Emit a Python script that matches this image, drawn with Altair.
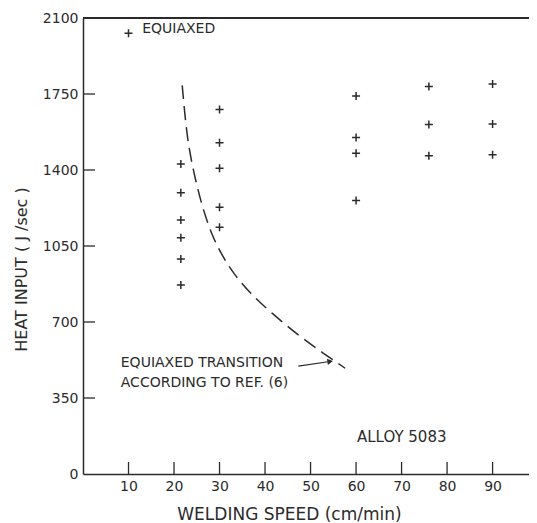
import altair as alt
import pandas as pd

# Data points (+ markers)
pt_x = [10,
        21.5, 21.5, 21.5, 21.5, 21.5, 21.5,
        30, 30, 30, 30, 30,
        60, 60, 60, 60,
        76, 76, 76,
        90, 90, 90]
pt_y = [2030,
        1428, 1295, 1170, 1088, 990, 870,
        1679, 1526, 1408, 1228, 1136,
        1741, 1550, 1477, 1259,
        1785, 1609, 1466,
        1796, 1612, 1470]

# Equiaxed transition curve according to Ref. (6)
curve_x = [21.8, 22.8, 24.2, 26.1, 28.4, 30.6, 33.0, 36.7, 41.5, 47.7, 52.8, 57.6]
curve_y = [1790, 1555, 1400, 1235, 1095, 1005, 925, 832, 740, 632, 556, 487]

x_ticks = [10, 20, 30, 40, 50, 60, 70, 80, 90]
y_ticks = [0, 350, 700, 1050, 1400, 1750, 2100]
y_inner_ticks = [350, 700, 1050, 1400, 1750]

ann_text = ["EQUIAXED", "EQUIAXED TRANSITION", "ACCORDING TO REF. (6)", "ALLOY 5083"]
ann_x = [13.0, 8.3, 8.3, 60.2]
ann_y = [2048, 511, 419, 172]
ann_size = [14, 14, 14, 15]

arrow_x = [47.3]
arrow_y = [497]
arrow_x2 = [54.3]
arrow_y2 = [518]

INK = "#2b2b2b"
FONT = "DejaVu Sans"
W, H = 446, 456

xs = alt.Scale(domain=[0, 98], nice=False, zero=False)
ys = alt.Scale(domain=[0, 2100], nice=False, zero=False)

pts = pd.DataFrame({"x": pt_x, "y": pt_y})
crv = pd.DataFrame({"x": curve_x, "y": curve_y, "i": list(range(len(curve_x)))})
ann = pd.DataFrame({"t": ann_text, "x": ann_x, "y": ann_y, "s": ann_size})
arr = pd.DataFrame({"x": arrow_x, "y": arrow_y, "x2": arrow_x2, "y2": arrow_y2})
xt = pd.DataFrame({"v": x_ticks})
yt = pd.DataFrame({"v": y_inner_ticks})

xaxis = alt.Axis(values=x_ticks, format="d", ticks=False, grid=False, labelPadding=5,
                 labelFontSize=14, labelFont=FONT, labelColor=INK,
                 domainColor=INK, domainWidth=1.5,
                 title="WELDING SPEED  (cm/min)", titleFont=FONT, titleFontSize=17,
                 titleFontWeight="normal", titleColor=INK, titleX=206, titleY=40,
                 titleAlign="center", titleBaseline="middle")
yaxis = alt.Axis(values=y_ticks, format="d", ticks=False, grid=False, labelPadding=5,
                 labelFontSize=14, labelFont=FONT, labelColor=INK,
                 domainColor=INK, domainWidth=1.5,
                 title="HEAT INPUT ( J /sec )", titleFont=FONT, titleFontSize=16,
                 titleFontWeight="normal", titleColor=INK, titleX=-62, titleY=251,
                 titleAlign="center", titleBaseline="middle", titleAngle=-90)

points = alt.Chart(pts).mark_point(
    shape="M-1,0L1,0M0,-1L0,1", size=64, filled=False, stroke=INK, strokeWidth=1.5, opacity=1
).encode(
    x=alt.X("x:Q", scale=xs, axis=xaxis),
    y=alt.Y("y:Q", scale=ys, axis=yaxis),
)

curve = alt.Chart(crv).mark_line(
    color=INK, strokeWidth=1.5, strokeDash=[14, 7], interpolate="basis"
).encode(x=alt.X("x:Q", scale=xs), y=alt.Y("y:Q", scale=ys), order="i:Q")

texts = alt.Chart(ann).mark_text(
    align="left", baseline="middle", font=FONT, color=INK
).encode(x=alt.X("x:Q", scale=xs), y=alt.Y("y:Q", scale=ys), text="t:N",
         size=alt.Size("s:Q", scale=None, legend=None))

arrow_line = alt.Chart(arr).mark_rule(color=INK, strokeWidth=1.2).encode(
    x=alt.X("x:Q", scale=xs), y=alt.Y("y:Q", scale=ys), x2="x2:Q", y2="y2:Q")
arrow_head = alt.Chart(arr).mark_point(
    shape="triangle-right", size=40, filled=True, color=INK, opacity=1, angle=351
).encode(x=alt.X("x2:Q", scale=xs), y=alt.Y("y2:Q", scale=ys))

xtick = alt.Chart(xt).mark_rule(color=INK, strokeWidth=1.3).encode(
    x=alt.X("v:Q", scale=xs), y=alt.value(H - 12), y2=alt.value(H))
ytick = alt.Chart(yt).mark_rule(color=INK, strokeWidth=1.3).encode(
    y=alt.Y("v:Q", scale=ys), x=alt.value(0), x2=alt.value(12))
top = alt.Chart(xt).mark_rule(color=INK, strokeWidth=1.5).encode(
    x=alt.value(0), x2=alt.value(W), y=alt.value(0))

chart = alt.layer(points, curve, texts, arrow_line, arrow_head, xtick, ytick, top).properties(
    width=W, height=H,
    autosize=alt.AutoSizeParams(type="none"),
    padding={"left": 75, "top": 10, "right": 0, "bottom": 49},
    background="white",
).configure_view(stroke=None)

chart.save("out.html", embed_options={"renderer": "svg", "actions": False})
